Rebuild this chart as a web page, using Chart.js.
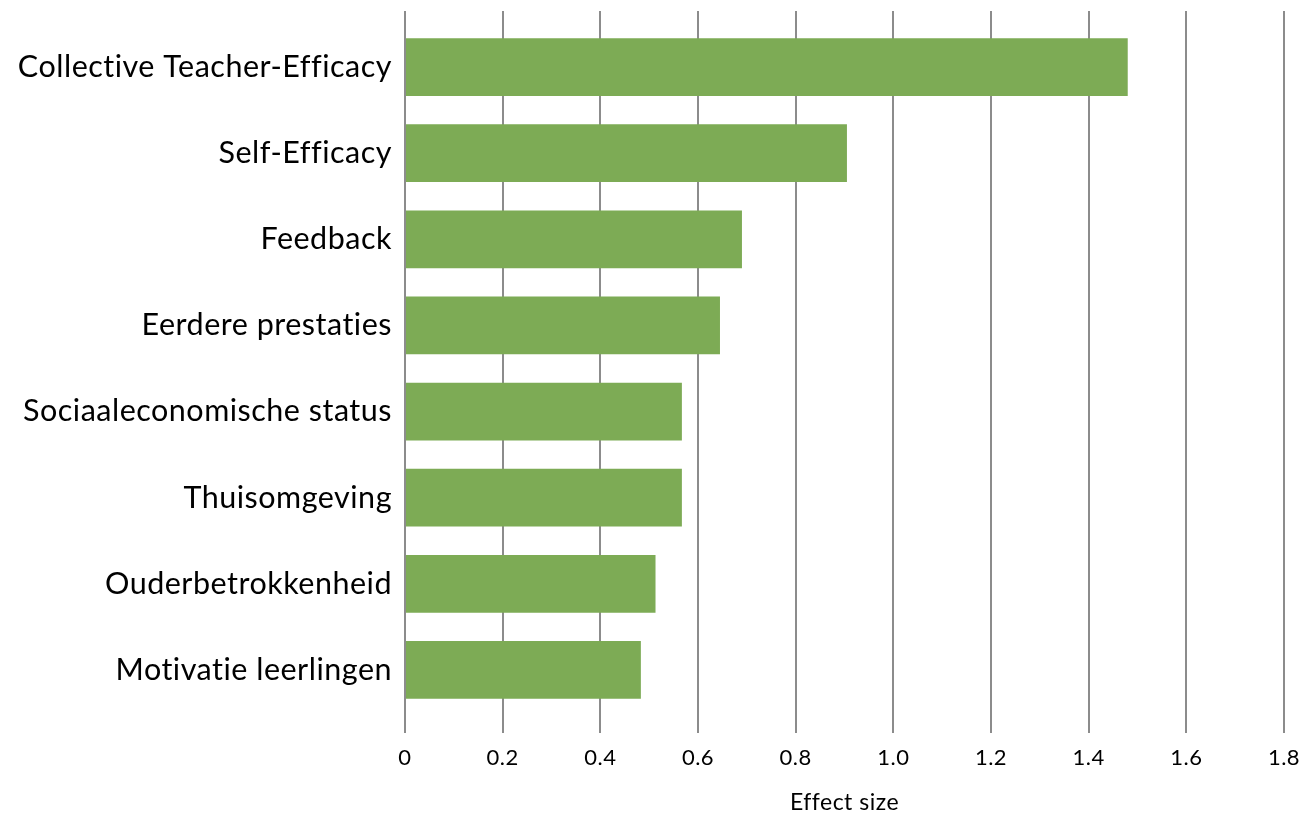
<!DOCTYPE html>
<html>
<head>
<meta charset="utf-8">
<script src="https://cdn.jsdelivr.net/npm/chart.js@4.4.0/dist/chart.umd.min.js"></script>
<style>
  html, body { margin: 0; padding: 0; background: #fff; }
  #wrap { width: 1307px; height: 816px; }
</style>
</head>
<body>
<div id="wrap"><canvas id="effectChart"></canvas></div>
<script>
// factors and their effect sizes
const factors = [
    "Collective Teacher-Efficacy",
    "Self-Efficacy",
    "Feedback",
    "Eerdere prestaties",
    "Sociaaleconomische status",
    "Thuisomgeving",
    "Ouderbetrokkenheid",
    "Motivatie leerlingen"
];
const effectSizes = [1.48, 0.905, 0.69, 0.645, 0.567, 0.567, 0.513, 0.483];

const xMin = 0;
const xMax = 1.8;
const xStep = 0.2;

const gridColor = "#8c8c8c";
const barColor = "#7dab55";
const fontFamily = "Lato, 'Open Sans', sans-serif";

// a tiny letter spacing keeps Lato from using its "ti" ligature
const spacingPlugin = {
    id: "spacing",
    beforeUpdate: chart => { chart.ctx.letterSpacing = "0.5px"; },
    beforeDraw: chart => { chart.ctx.letterSpacing = "0.5px"; }
};

const ctx = document.getElementById("effectChart").getContext("2d");

new Chart(ctx, {
    type: "bar",
    data: {
        labels: factors,
        datasets: [
            {
                label: "Effect size",
                data: effectSizes,
                backgroundColor: barColor,
                borderWidth: 0,
                barPercentage: 0.67,
                categoryPercentage: 1.0
            }
        ]
    },
    options: {
        indexAxis: "y",
        responsive: true,
        maintainAspectRatio: false,
        animation: false,
        layout: { padding: { top: 11, right: 23, bottom: 0, left: 0 } },
        scales: {
            x: {
                min: xMin,
                max: xMax,
                ticks: {
                    stepSize: xStep,
                    color: "#000",
                    padding: 6,
                    font: { family: fontFamily, size: 22, lineHeight: 1.7 },
                    callback: v => (v === 0 ? "0" : Number(v).toFixed(1))
                },
                grid: { color: gridColor, lineWidth: 2, tickLength: 20 },
                border: { display: false },
                title: {
                    display: true,
                    text: "Effect size",
                    color: "#000",
                    font: { family: fontFamily, size: 23 },
                    padding: { top: 0, bottom: 0 }
                },
                afterFit: s => { s.height = 103; }
            },
            x2: {
                position: "top",
                min: xMin,
                max: xMax,
                ticks: { stepSize: xStep, display: false },
                grid: { color: gridColor, lineWidth: 2, tickLength: 13, drawOnChartArea: false },
                border: { display: false },
                afterFit: s => { s.height = 13; }
            },
            y: {
                ticks: {
                    color: "#000",
                    padding: 5,
                    font: { family: fontFamily, size: 30.5, lineHeight: 1.0 }
                },
                grid: { display: false },
                border: { display: false },
                afterFit: s => { s.width = 405; }
            }
        },
        plugins: {
            legend: { display: false },
            tooltip: { enabled: false }
        }
    },
    plugins: [spacingPlugin]
});
</script>
</body>
</html>
